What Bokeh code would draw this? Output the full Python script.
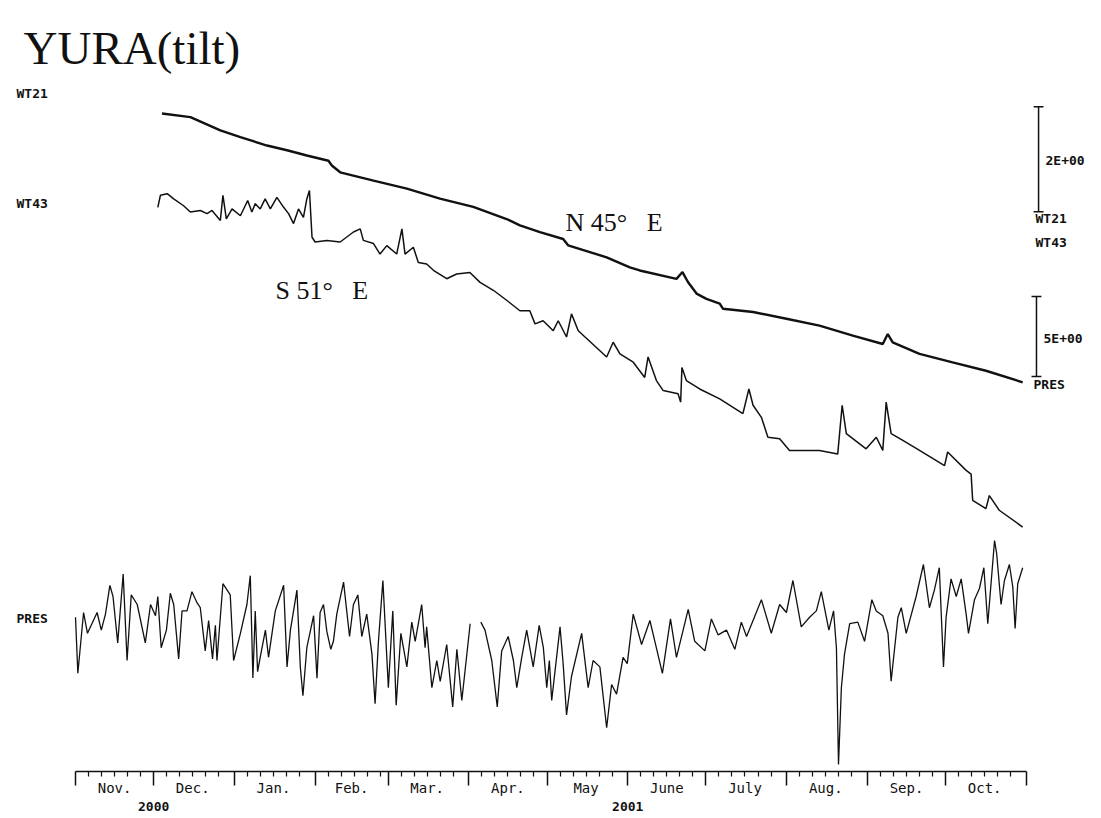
from bokeh.plotting import figure
from bokeh.models import Range1d, LinearAxis, FixedTicker
from bokeh.core.properties import value
from bokeh.embed import file_html
from bokeh.resources import INLINE

nan = float("nan")

# ---------------- data (day = days since 2000-11-01) ----------------
MONTHS = ["Nov.", "Dec.", "Jan.", "Feb.", "Mar.", "Apr.", "May", "June",
          "July", "Aug.", "Sep.", "Oct."]
MONTH_LEN = [30, 31, 31, 28, 31, 30, 31, 30, 31, 31, 30, 31]
YEARS = ["2000", "2001"]
YEAR_DAY = [30, 212]

# WT21 tilt (N45E), scale units as in the 2E+00 bar
WT21 = [(33.2, 0.00), (44.1, -0.07), (55.6, -0.32), (63.3, -0.45), (73.5, -0.61),
        (81.2, -0.70), (88.8, -0.80), (97.1, -0.90), (98.4, -0.99), (101.6, -1.12),
        (114.4, -1.28), (127.2, -1.43), (139.9, -1.62), (152.7, -1.78), (165.5, -2.01),
        (170.6, -2.13), (178.3, -2.26), (187.2, -2.39), (189.1, -2.51), (203.9, -2.74),
        (212.8, -2.93), (216.6, -2.99), (230.7, -3.15), (233.0, -3.02), (235.1, -3.21),
        (238.4, -3.43), (242.2, -3.53), (247.3, -3.62), (248.6, -3.72), (260.1, -3.78),
        (272.9, -3.91), (285.6, -4.04), (298.4, -4.23), (309.9, -4.39), (311.8, -4.20),
        (313.7, -4.36), (324.0, -4.58), (336.7, -4.74), (349.5, -4.90), (363.6, -5.12)]

# WT43 tilt (S51E)
WT43 = [(31.6, -0.13), (32.6, 0.10), (35.2, 0.13), (37.7, 0.03), (41.5, -0.10),
        (44.1, -0.22), (47.9, -0.19), (50.5, -0.25), (52.4, -0.19), (55.6, -0.38),
        (56.6, 0.10), (57.9, -0.35), (60.1, -0.16), (63.3, -0.29), (66.1, 0.00),
        (67.7, -0.22), (69.0, -0.06), (70.9, -0.16), (72.8, 0.03), (74.8, -0.16),
        (77.3, 0.06), (79.9, -0.13), (81.8, -0.25), (83.7, -0.44), (85.6, -0.16),
        (87.5, -0.32), (88.8, 0.03), (89.8, 0.19), (90.8, -0.70), (92.0, -0.79),
        (96.5, -0.76), (101.6, -0.79), (106.7, -0.60), (109.3, -0.54), (110.5, -0.76),
        (114.4, -0.82), (116.9, -1.02), (119.5, -0.86), (123.3, -1.02), (125.3, -0.54),
        (126.5, -1.02), (129.7, -0.89), (131.6, -1.18), (134.8, -1.21), (137.4, -1.33),
        (142.5, -1.49), (146.3, -1.40), (151.4, -1.37), (155.3, -1.56), (160.4, -1.71),
        (165.5, -1.90), (170.6, -2.10), (174.4, -2.10), (176.4, -2.35), (179.5, -2.29),
        (183.4, -2.48), (185.3, -2.29), (188.5, -2.60), (190.4, -2.16), (193.0, -2.48),
        (203.9, -2.98), (206.4, -2.70), (209.0, -2.92), (214.1, -3.08), (218.5, -3.37),
        (219.8, -2.98), (223.0, -3.43), (225.6, -3.62), (231.3, -3.68), (232.3, -3.84),
        (232.8, -3.18), (234.5, -3.43), (239.6, -3.59), (247.3, -3.78), (256.2, -4.06),
        (258.5, -3.59), (260.1, -3.90), (263.3, -4.13), (265.8, -4.51), (270.3, -4.54),
        (274.1, -4.76), (285.6, -4.76), (292.6, -4.83), (294.3, -3.90), (295.9, -4.44),
        (303.5, -4.73), (307.4, -4.51), (309.9, -4.76), (311.2, -3.84), (313.1, -4.44),
        (317.6, -4.57), (324.0, -4.76), (333.6, -5.05), (334.8, -4.79), (341.9, -5.14),
        (343.8, -5.21), (344.4, -5.71), (349.5, -5.87), (350.8, -5.62), (354.6, -5.90),
        (363.6, -6.22)]

# PRES, anomaly (scale bar 5E+00)
PRES = [(0.0, 0.2), (0.9, -3.3), (3.1, 0.5), (4.6, -0.8), (8.3, 0.5), (9.9, -0.6),
        (11.5, 0.4), (13.2, 2.2), (14.4, 1.5), (16.2, -1.4), (18.3, 2.9), (19.8, -2.5),
        (21.4, 1.6), (23.7, 1.0), (26.8, -1.4), (28.8, 1.0), (30.7, 0.3), (31.6, 1.5),
        (32.9, -1.7), (34.9, -0.6), (36.4, 1.7), (37.7, 1.0), (39.6, -2.4), (40.9, 0.6),
        (42.8, 0.6), (44.7, 1.8), (46.7, 1.1), (47.9, 0.8), (49.8, -1.9), (51.1, 0.0),
        (52.6, -2.4), (53.7, -0.3), (54.3, -2.5), (56.6, 2.3), (59.4, 1.6), (60.7, -2.5),
        (63.3, -0.8), (65.8, 1.0), (67.1, 2.8), (68.1, -3.6), (69.0, 0.6), (69.9, -3.2),
        (70.9, -2.3), (72.9, -0.6), (74.1, -2.3), (76.7, 0.6), (79.9, 2.2), (81.2, -2.9),
        (82.5, -0.6), (85.0, 1.9), (86.3, -2.9), (87.3, -4.7), (88.8, -1.7), (91.4, 0.3),
        (92.7, -3.6), (93.9, 0.5), (95.2, 1.0), (96.5, -0.7), (98.0, -1.8), (99.0, -1.3),
        (100.3, 0.4), (102.9, 2.4), (105.2, -1.0), (106.7, 1.0), (108.4, 1.6), (109.9, -1.0),
        (111.8, 0.4), (113.8, -2.1), (115.0, -5.2), (116.3, -1.3), (118.0, 2.5), (120.1, -4.2),
        (121.8, 0.6), (123.1, -5.3), (124.9, -0.8), (127.2, -2.9), (129.1, -0.1), (130.4, -1.3),
        (132.9, 1.0), (134.2, -1.7), (134.8, -0.4), (136.8, -4.2), (138.7, -2.5), (140.0, -3.8),
        (142.5, -1.5), (144.8, -5.4), (146.4, -1.8), (148.3, -5.0), (151.5, -0.2), (153.5, nan),
        (155.6, -0.1), (157.2, -0.6), (159.8, -2.5), (161.9, -5.4), (163.6, -1.9), (166.1, -1.0),
        (168.1, -2.5), (169.4, -4.2), (171.3, -2.3), (173.2, -0.6), (175.7, -2.9), (178.0, -0.3),
        (179.6, -1.7), (180.9, -4.2), (181.9, -2.5), (182.8, -5.0), (186.0, -0.4), (187.2, -2.7),
        (188.5, -5.9), (190.4, -3.5), (194.3, -0.8), (196.8, -4.2), (198.7, -2.5), (201.3, -2.9),
        (203.9, -6.7), (205.8, -4.0), (207.7, -4.6), (210.2, -2.3), (211.8, -2.7), (214.1, 0.4),
        (217.3, -1.5), (220.5, 0.0), (222.4, -1.3), (225.3, -3.3), (228.4, 0.1), (230.7, -2.3),
        (235.2, 0.7), (237.7, -1.3), (241.6, -1.9), (244.1, 0.1), (246.7, -0.9), (249.9, -0.6),
        (253.1, -1.8), (255.6, -0.1), (257.6, -1.0), (260.1, 0.0), (263.3, 1.3), (267.1, -0.8),
        (270.3, 1.0), (272.9, 0.5), (275.4, 2.5), (278.6, -0.4), (281.8, 0.2), (284.4, 0.6),
        (286.3, 1.8), (289.2, -0.6), (291.0, 0.6), (292.1, -1.7), (292.9, -9.0), (294.0, -4.2),
        (295.2, -2.1), (297.2, -0.2), (300.3, -0.1), (302.9, -1.3), (305.7, 1.3), (307.4, 0.6),
        (309.9, 0.3), (311.9, -0.8), (313.1, -3.8), (315.7, 0.2), (317.0, 0.8), (318.9, -0.8),
        (322.7, 1.5), (325.5, 3.5), (327.8, 0.8), (329.7, 1.9), (331.6, 3.3), (333.2, -2.9),
        (334.2, 0.2), (336.1, 2.6), (338.1, 1.5), (340.0, 2.6), (341.9, 0.4), (342.8, -0.8),
        (345.1, 1.3), (347.0, 2.0), (348.7, 3.3), (350.2, -0.2), (352.8, 5.0), (353.6, 4.2),
        (355.3, 1.0), (356.6, 2.5), (358.5, 3.5), (359.8, 2.1), (360.7, -0.5), (361.7, 2.3),
        (363.6, 3.3)]

wt21_day, wt21_val = [list(t) for t in zip(*WT21)]
wt43_day, wt43_val = [list(t) for t in zip(*WT43)]
pres_day, pres_val = [list(t) for t in zip(*PRES)]

# ---------------- layout ----------------
FW, FH = 1085, 763
PXD = 2.605                 # pixels per day
X0 = -67 / PXD
TILT_K = 52.5               # px per tilt unit
PRES_K = 16.0               # px per pressure unit

month_start = [0]
for n in MONTH_LEN:
    month_start.append(month_start[-1] + n)
month_mid = [month_start[i] + MONTH_LEN[i] // 2 for i in range(12)]
minor = [s + k for s in month_start[:-1] for k in (5, 10, 15, 20, 25)]

p = figure(frame_width=FW, frame_height=FH, output_backend="svg", toolbar_location=None,
           x_axis_location=None, y_axis_location=None, min_border=0,
           min_border_left=8, min_border_top=8,
           x_range=Range1d(X0, X0 + FW / PXD), y_range=Range1d(FH, 0),
           background_fill_color="white", border_fill_color="white",
           outline_line_color=None)
p.grid.visible = False
p.extra_x_ranges = {"px": Range1d(0, FW)}
p.extra_y_ranges = {
    "wt21": Range1d(105 / TILT_K - FH / TILT_K, 105 / TILT_K),
    "wt43": Range1d(192 / TILT_K - FH / TILT_K, 192 / TILT_K),
    "pres": Range1d(612 / PRES_K - FH / PRES_K, 612 / PRES_K),
}

INK = "#111111"
p.line(wt21_day, wt21_val, y_range_name="wt21", line_color=INK, line_width=2.4)
p.line(wt43_day, wt43_val, y_range_name="wt43", line_color=INK, line_width=1.5)
p.line(pres_day, pres_val, y_range_name="pres", line_color=INK, line_width=1.3)

# scale bars
TILT_BAR, PRES_BAR = 2.0, 5.0
tb0 = -1.87
p.segment(x0=[369.7], y0=[tb0], x1=[369.7], y1=[tb0 + TILT_BAR], y_range_name="wt21",
          line_color=INK, line_width=1.5)
p.segment(x0=[367.8, 367.8], y0=[tb0, tb0 + TILT_BAR], x1=[371.6, 371.6],
          y1=[tb0, tb0 + TILT_BAR], y_range_name="wt21", line_color=INK, line_width=1.5)
pb0 = 15.25
p.segment(x0=[368.9], y0=[pb0], x1=[368.9], y1=[pb0 + PRES_BAR], y_range_name="pres",
          line_color=INK, line_width=1.5)
p.segment(x0=[367.0, 367.0], y0=[pb0, pb0 + PRES_BAR], x1=[370.8, 370.8],
          y1=[pb0, pb0 + PRES_BAR], y_range_name="pres", line_color=INK, line_width=1.5)

# texts
MONO_NAME = "DejaVu Sans Mono"
MONO = value(MONO_NAME)
SERIF = value("Liberation Serif")
NB = "\u00a0"
p.text(x=[15], y=[39], text=["YURA(tilt)"], x_range_name="px", text_font=SERIF,
       text_font_size="47px", text_baseline="alphabetic", text_color=INK)
p.text(x=[557, 267], y=[214, 282],
       text=["N" + NB + "45°" + NB * 3 + "E", "S" + NB + "51°" + NB * 3 + "E"],
       x_range_name="px", text_font=SERIF, text_font_size="26px",
       text_baseline="alphabetic", text_color=INK)
p.text(x=[8, 8, 8, 1037, 1027, 1027, 1035, 1025],
       y=[85, 195, 610, 152, 210, 234, 330, 376],
       text=["WT21", "WT43", "PRES", "2E+00", "WT21", "WT43", "5E+00", "PRES"],
       x_range_name="px", text_font=MONO, text_font_size="13px", text_font_style="bold",
       text_baseline="middle", text_color=INK)

# axes
axA = LinearAxis(ticker=FixedTicker(ticks=month_start, minor_ticks=minor), bounds=(0, 365),
                 major_tick_out=14, major_tick_in=0, minor_tick_out=5, minor_tick_in=0,
                 axis_line_width=1.5, major_tick_line_width=1.5, minor_tick_line_width=1.2,
                 axis_line_color=INK, major_tick_line_color=INK, minor_tick_line_color=INK,
                 major_label_overrides={t: "" for t in month_start},
                 major_label_text_font_size="1px", major_label_standoff=0)
p.add_layout(axA, "below")
axB = LinearAxis(ticker=FixedTicker(ticks=month_mid, minor_ticks=[]),
                 major_label_overrides={month_mid[i]: MONTHS[i] for i in range(12)},
                 axis_line_color=None, major_tick_line_color=None, minor_tick_line_color=None,
                 major_tick_out=0, major_tick_in=0, minor_tick_out=0, minor_tick_in=0,
                 major_label_standoff=-6, major_label_text_font=MONO_NAME,
                 major_label_text_font_size="14px", major_label_text_color=INK)
p.add_layout(axB, "below")
axC = LinearAxis(ticker=FixedTicker(ticks=YEAR_DAY, minor_ticks=[]),
                 major_label_overrides={YEAR_DAY[i]: YEARS[i] for i in range(2)},
                 axis_line_color=None, major_tick_line_color=None, minor_tick_line_color=None,
                 major_tick_out=0, major_tick_in=0, minor_tick_out=0, minor_tick_in=0,
                 major_label_standoff=3, major_label_text_font=MONO_NAME,
                 major_label_text_font_style="bold",
                 major_label_text_font_size="13px", major_label_text_color=INK)
p.add_layout(axC, "below")

open("out.html", "w").write(file_html(p, INLINE))
